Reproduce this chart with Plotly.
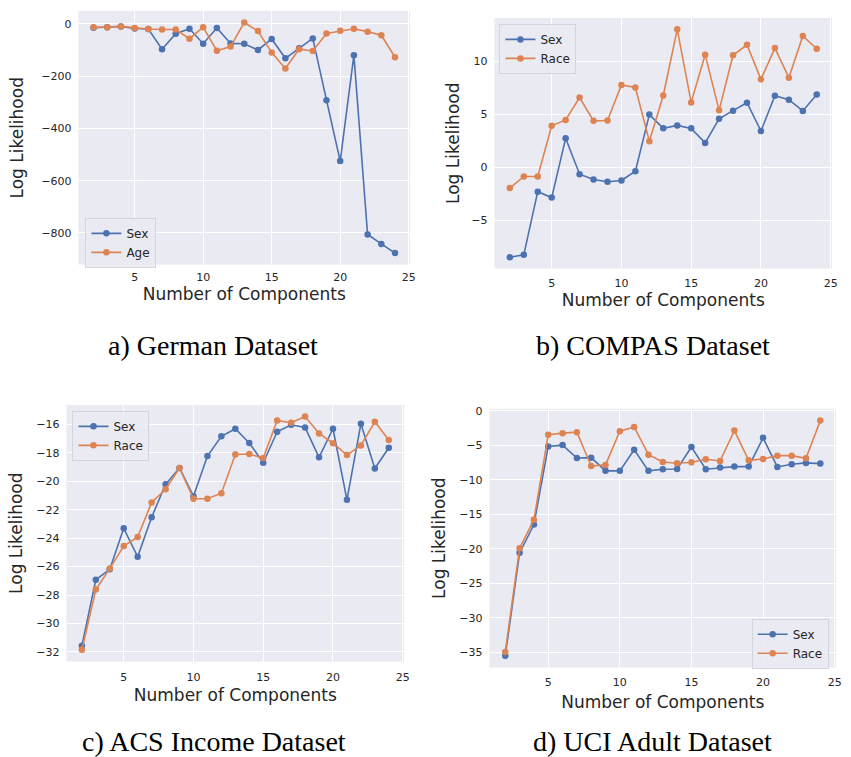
import plotly.graph_objects as go

components = list(range(2, 25))

german_sex = [-15, -13, -10, -18, -20, -97, -38, -19, -76, -16, -75, -76, -100, -58,
              -132, -94, -56, -292, -525, -120, -806, -842, -877]
german_age = [-13, -13, -10, -16, -20, -22, -22, -57, -13, -103, -87, 5, -28, -110,
              -171, -97, -104, -37, -27, -19, -30, -44, -128]

compas_sex = [-8.45, -8.23, -2.27, -2.83, 2.76, -0.62, -1.12, -1.34, -1.21, -0.34, 5.0,
              3.70, 3.98, 3.70, 2.33, 4.60, 5.37, 6.12, 3.45, 6.77, 6.40, 5.34, 6.89]
compas_race = [-1.93, -0.84, -0.84, 3.94, 4.50, 6.61, 4.41, 4.44, 7.80, 7.55, 2.48,
               6.80, 13.04, 6.15, 10.65, 5.40, 10.59, 11.58, 8.32, 11.27, 8.48, 12.42, 11.21]

acs_sex = [-31.58, -26.93, -26.19, -23.31, -25.31, -22.53, -20.21, -19.06, -21.05, -18.22,
           -16.83, -16.30, -17.30, -18.69, -16.51, -16.02, -16.21, -18.31, -16.30, -21.30,
           -15.95, -19.10, -17.64]
acs_race = [-31.86, -27.62, -26.14, -24.56, -23.92, -21.49, -20.56, -19.06, -21.23, -21.23,
            -20.84, -18.11, -18.08, -18.36, -15.72, -15.88, -15.44, -16.63, -17.32, -18.15,
            -17.48, -15.81, -17.09]

uci_sex = [-35.5, -20.6, -16.5, -5.18, -4.99, -6.86, -6.81, -8.72, -8.72, -5.66, -8.72,
           -8.49, -8.44, -5.27, -8.49, -8.25, -8.10, -8.10, -3.93, -8.15, -7.77, -7.57, -7.67]
uci_race = [-34.95, -19.94, -15.82, -3.50, -3.26, -3.12, -8.01, -7.86, -2.97, -2.35, -6.38,
            -7.43, -7.62, -7.48, -7.05, -7.29, -2.88, -7.19, -7.00, -6.52, -6.52, -6.90, -1.44]

panels = [
    ("a) German Dataset", [("Sex", german_sex), ("Age", german_age)]),
    ("b) COMPAS Dataset", [("Sex", compas_sex), ("Race", compas_race)]),
    ("c) ACS Income Dataset", [("Sex", acs_sex), ("Race", acs_race)]),
    ("d) UCI Adult Dataset", [("Sex", uci_sex), ("Race", uci_race)]),
]
y_ticks = [
    [0, -200, -400, -600, -800],
    [-5, 0, 5, 10],
    [-32, -30, -28, -26, -24, -22, -20, -18, -16],
    [-35, -30, -25, -20, -15, -10, -5, 0],
]
x_ticks = [5, 10, 15, 20, 25]

W, H = 851, 757
# plot areas in pixels (left, right, top, bottom)
areas = [(79, 413, 7, 262), (498, 838, 14, 266), (67, 407, 403, 661), (493, 842, 407, 667)]
legend_pos = [(86, 215), (503, 20), (73, 409), (757, 618)]
caption_pos = [(215, 343), (658, 343), (216, 741), (657, 741)]
x_tick_standoff = [4, 6, 7, 7]
x_title_standoff = [4, 5, 6, 7]
y_title_standoff = [13, 7, 9, 9]

colors = ["#4C72B0", "#DD8452"]
txt = "#262626"

fig = go.Figure()
layout = dict(
    width=W, height=H, margin=dict(l=0, r=0, t=0, b=0),
    paper_bgcolor="white", plot_bgcolor="#EAEAF2",
    font=dict(family="DejaVu Sans", color=txt),
    annotations=[], showlegend=True,
)

def pad_range(vals):
    lo, hi = min(vals), max(vals)
    m = (hi - lo) * 0.05
    return [lo - m, hi + m]

for i, (cap, series) in enumerate(panels):
    n = "" if i == 0 else str(i + 1)
    leg = "legend" if i == 0 else "legend" + str(i + 1)
    allv = []
    for j, (name, vals) in enumerate(series):
        allv += vals
        fig.add_trace(go.Scatter(
            x=components, y=vals, name=name, mode="lines+markers",
            line=dict(color=colors[j], width=1.6),
            marker=dict(color=colors[j], size=6.5),
            xaxis="x" + n, yaxis="y" + n, legend=leg,
        ))
    l, r, t, b = areas[i]
    layout["xaxis" + n] = dict(
        domain=[l / W, r / W], anchor="y" + n, range=[0.9, 25.1],
        tickvals=x_ticks, showgrid=True, gridcolor="white", gridwidth=1.1,
        zeroline=False, showline=False, ticks="", ticklabelstandoff=x_tick_standoff[i],
        tickfont=dict(size=11, color=txt),
        title=dict(text="Number of Components", font=dict(size=17, color=txt),
                   standoff=x_title_standoff[i]),
    )
    layout["yaxis" + n] = dict(
        domain=[1 - b / H, 1 - t / H], anchor="x" + n, range=pad_range(allv),
        tickvals=y_ticks[i], ticktext=[str(v).replace("-", "\u2212") for v in y_ticks[i]],
        showgrid=True, gridcolor="white", gridwidth=1.1,
        zeroline=False, showline=False, ticks="", ticklabelstandoff=6,
        tickfont=dict(size=11, color=txt),
        title=dict(text="Log Likelihood", font=dict(size=17, color=txt),
                   standoff=y_title_standoff[i]),
    )
    lx, ly = legend_pos[i]
    layout[leg] = dict(
        x=lx / W, y=1 - ly / H, xanchor="left", yanchor="top",
        bgcolor="rgba(234,234,242,0.85)", bordercolor="#d4d4dc", borderwidth=1,
        font=dict(size=12, color=txt), itemwidth=30, tracegroupgap=0,
    )
    cx, cy = caption_pos[i]
    layout["annotations"].append(dict(
        text=cap, x=cx / W, y=1 - cy / H, xref="paper", yref="paper",
        xanchor="center", yanchor="middle", showarrow=False,
        font=dict(family="Liberation Serif", size=28, color="black"),
    ))

fig.update_layout(**layout)
fig.write_html("out.html")
